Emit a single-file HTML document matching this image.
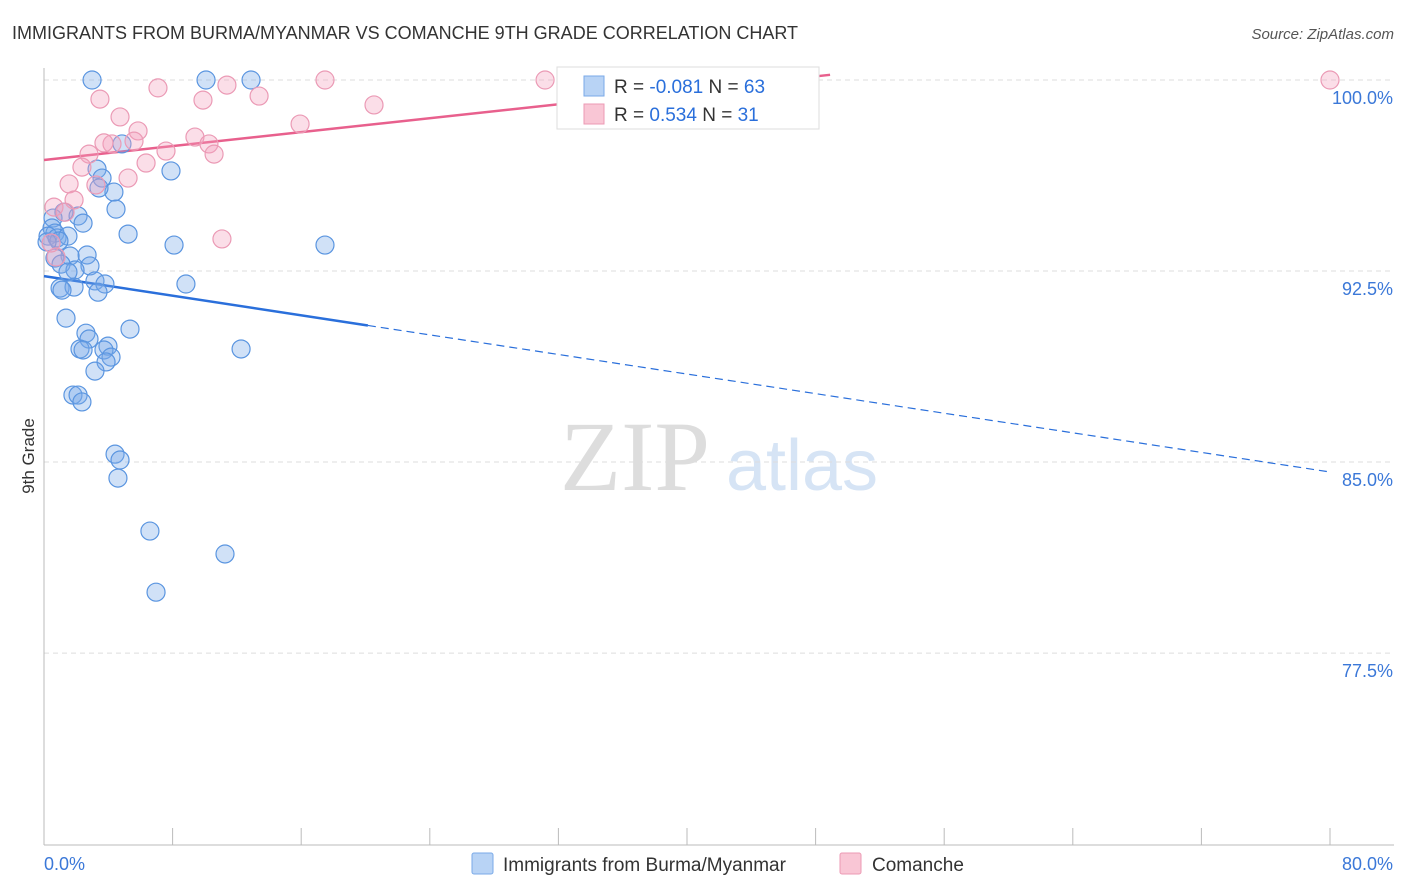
<!DOCTYPE html>
<html><head><meta charset="utf-8"><style>
body{margin:0;background:#fff;font-family:"Liberation Sans",sans-serif;}
svg{display:block}
</style></head><body>
<svg id="chart" width="1406" height="892">
<text x="12" y="39" font-size="18" fill="#333">IMMIGRANTS FROM BURMA/MYANMAR VS COMANCHE 9TH GRADE CORRELATION CHART</text>
<text x="1394" y="39" font-size="15" fill="#555" font-style="italic" text-anchor="end">Source: ZipAtlas.com</text>
<text x="34" y="456" font-size="17" fill="#333" transform="rotate(-90 34 456)" text-anchor="middle">9th Grade</text>
<g>
<text x="635" y="490" font-size="100" fill="#ddd" font-family="Liberation Serif,serif" text-anchor="middle">ZIP</text>
<text x="802" y="490" font-size="72" fill="#d6e4f5" text-anchor="middle">atlas</text>
</g>
<g id="grid"></g><g id="axes"></g><g id="trends"></g><g id="points"></g>
<g>
<rect x="557" y="67" width="262" height="62" fill="#fff" stroke="#ddd"/>
<rect x="584" y="76" width="20" height="20" fill="#b8d3f5" stroke="#7aaae8"/>
<rect x="584" y="104" width="20" height="20" fill="#f9c6d5" stroke="#ec9ab4"/>
<text x="614" y="93" font-size="19" fill="#333">R = <tspan fill="#2a6fdb">-0.081</tspan>   N = <tspan fill="#2a6fdb">63</tspan></text>
<text x="614" y="121" font-size="19" fill="#333">R =  <tspan fill="#2a6fdb">0.534</tspan>   N =  <tspan fill="#2a6fdb">31</tspan></text>
</g>
<g>
<rect x="472" y="853" width="21" height="21" fill="#b8d3f5" stroke="#7aaae8" rx="2"/>
<text x="503" y="871" font-size="19" fill="#333">Immigrants from Burma/Myanmar</text>
<rect x="840" y="853" width="21" height="21" fill="#f9c6d5" stroke="#ec9ab4" rx="2"/>
<text x="872" y="871" font-size="19" fill="#333">Comanche</text>
</g>
</svg>
<script>
const blueX=[2.99,10.08,12.88,4.85,7.90,3.30,3.61,4.35,3.42,4.48,1.24,2.12,2.43,0.56,5.23,0.50,0.68,0.25,0.81,1.49,0.93,0.19,8.09,17.48,2.68,1.62,0.68,1.06,2.86,1.93,1.49,3.17,3.79,8.83,1.00,1.87,1.12,3.36,1.37,5.35,2.61,2.80,2.24,2.43,3.98,3.73,4.17,3.86,12.26,3.17,1.80,2.12,2.36,4.42,4.73,4.60,6.59,11.26,6.97];
const blueY=[100.0,100.0,100.0,97.49,96.43,96.50,96.15,95.60,95.76,94.93,94.81,94.66,94.38,94.58,93.95,94.19,93.99,93.87,93.80,93.87,93.68,93.64,93.52,93.52,93.13,93.09,93.01,92.77,92.70,92.54,92.46,92.11,91.99,91.99,91.83,91.87,91.75,91.67,90.65,90.22,90.06,89.83,89.44,89.40,89.55,89.40,89.12,88.93,89.44,88.57,87.63,87.63,87.36,85.31,85.08,84.37,82.29,81.39,79.89];
const pinkX=[3.48,7.09,11.38,17.48,31.17,33.22,80.0,13.38,9.89,20.53,4.73,5.85,15.93,4.23,3.73,5.60,9.39,10.26,7.59,10.58,2.80,6.35,5.23,2.36,1.56,3.23,1.87,0.62,1.31,11.07,0.75,0.44];
const pinkY=[99.25,99.69,99.80,100,100,100,100,99.37,99.21,99.02,98.55,98.00,98.27,97.49,97.53,97.60,97.76,97.49,97.21,97.09,97.09,96.74,96.15,96.58,95.92,95.88,95.29,95.01,94.81,93.76,93.05,93.60];
const yTicks=[100,92.5,85,77.5];
const yTickLabels=["100.0%","92.5%","85.0%","77.5%"];
const xTicks=[0,8,16,24,32,40,48,56,64,72,80];
const blueTrend=[92.30,84.61]; // value at x=0 and x=80
const blueSolidEnd=20.15;
const pinkTrend=[96.86,102.33];
const pinkEnd=48.9;
const NS="http://www.w3.org/2000/svg";
const X=v=>44+v/80*1286, Y=v=>80+(100-v)*25.47;
function mk(tag,attrs,parent){const e=document.createElementNS(NS,tag);for(const k in attrs)e.setAttribute(k,attrs[k]);document.getElementById(parent).appendChild(e);return e;}
yTicks.forEach((t,i)=>{
 const l=mk('line',{x1:44,x2:1394,y1:Y(t),y2:Y(t),stroke:'#ddd','stroke-dasharray':'5,4'},'grid');
 
 
 const tx=mk('text',{x:1393,y:Y(t)+24,'font-size':18,fill:'#3b78d8','text-anchor':'end'},'grid');
 tx.textContent=yTickLabels[i];
 
 
});
const ya=mk('line',{x1:44,x2:44,y1:68,y2:845,stroke:'#bbb'},'axes');


const xa=mk('line',{x1:44,x2:1394,y1:845,y2:845,stroke:'#bbb'},'axes');


xTicks.forEach(t=>{
 const k=mk('line',{x1:X(t),x2:X(t),y1:828,y2:845,stroke:'#bbb'},'axes');
 
 
});
const xl0=mk('text',{x:44,y:870,'font-size':18,fill:'#3b78d8'},'axes');xl0.textContent=xTicks[0].toFixed(1)+'%';


const xl1=mk('text',{x:1393,y:870,'font-size':18,fill:'#3b78d8','text-anchor':'end'},'axes');xl1.textContent=xTicks[xTicks.length-1].toFixed(1)+'%';


const bv=x=>blueTrend[0]+(blueTrend[1]-blueTrend[0])*x/80;
const pv=x=>pinkTrend[0]+(pinkTrend[1]-pinkTrend[0])*x/80;
const b1=mk('line',{x1:X(0),y1:Y(bv(0)),x2:X(blueSolidEnd),y2:Y(bv(blueSolidEnd)),stroke:'#2a6fdb','stroke-width':2.5},'trends');


const b2=mk('line',{x1:X(blueSolidEnd),y1:Y(bv(blueSolidEnd)),x2:X(80),y2:Y(bv(80)),stroke:'#2a6fdb','stroke-width':1.2,'stroke-dasharray':'8,5'},'trends');


const p1=mk('line',{x1:X(0),y1:Y(pv(0)),x2:X(pinkEnd),y2:Y(pv(pinkEnd)),stroke:'#e8608d','stroke-width':2.5},'trends');


blueX.forEach((x,i)=>{
 const c=mk('circle',{cx:X(x),cy:Y(blueY[i]),r:9,fill:'rgba(120,170,232,0.35)',stroke:'#5a95e0','stroke-width':1.2},'points');
 
 
});
pinkX.forEach((x,i)=>{
 const c=mk('circle',{cx:X(x),cy:Y(pinkY[i]),r:9,fill:'rgba(244,160,188,0.35)',stroke:'#eb9ab5','stroke-width':1.2},'points');
 
 
});
</script>
</body></html>
